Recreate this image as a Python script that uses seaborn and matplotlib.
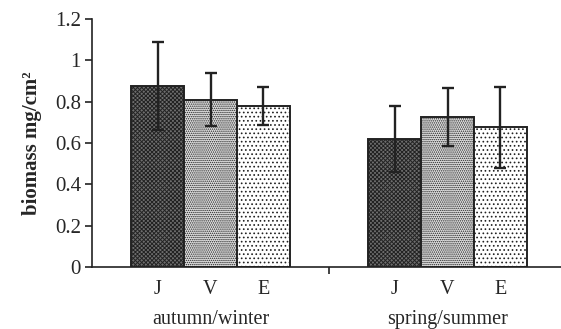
import matplotlib
matplotlib.use("Agg")
import matplotlib.pyplot as plt
import seaborn as sns
import pandas as pd
import numpy as np

seasons = ["autumn/winter", "spring/summer"]
sites = ["J", "V", "E"]
means_aw = [0.876, 0.81, 0.778]
means_ss = [0.62, 0.725, 0.675]
err_aw = [0.213, 0.127, 0.093]
err_ss = [0.16, 0.14, 0.195]
ytick_vals = [0, 0.2, 0.4, 0.6, 0.8, 1.0, 1.2]
ytick_labels = ["0", "0.2", "0.4", "0.6", "0.8", "1", "1.2"]

df = pd.DataFrame({
    "season": [seasons[0]] * 3 + [seasons[1]] * 3,
    "site": sites * 2,
    "biomass": means_aw + means_ss,
    "err": err_aw + err_ss,
})

sns.set_style("ticks")
plt.rcParams["font.family"] = ["Liberation Serif", "DejaVu Serif"]
plt.rcParams["hatch.linewidth"] = 0.7

fig = plt.figure(figsize=(5.61, 3.29), dpi=100)
ax = fig.add_axes([92 / 561, (329 - 267) / 329, 469 / 561, 248 / 329])

face = {"J": "#6e6e6e", "V": "#e2e2e2", "E": "#ffffff"}
sns.barplot(data=df, x="season", y="biomass", hue="site", order=seasons,
            hue_order=sites, palette=face, width=0.67, errorbar=None,
            edgecolor="#222222", linewidth=1.4, ax=ax, legend=False)

hatches = {"J": "xxxxxxxx", "V": "........", "E": "...."}
# patches are ordered by hue then by x
for i, site in enumerate(sites):
    for j, season in enumerate(seasons):
        p = ax.patches[i * len(seasons) + j]
        p.set_hatch(hatches[site])
        row = df[(df.season == season) & (df.site == site)].iloc[0]
        xc = p.get_x() + p.get_width() / 2
        ax.errorbar(xc, row.biomass, yerr=row.err, color="#222222",
                    capsize=4.5, elinewidth=1.7, capthick=1.7, zorder=5)
        ax.text(xc, -0.065, site, ha="center", va="top", fontsize=14.5)

for j, season in enumerate(seasons):
    ax.text(j, -0.21, season, ha="center", va="top", fontsize=14.5)

ax.set_xlim(-0.5, -0.5 + 2 * (469 / 474))
ax.set_ylim(0, 1.2)
ax.set_yticks(ytick_vals)
ax.set_yticklabels(ytick_labels, fontsize=15)
ax.set_xticks([0.5])
ax.set_xticklabels([""])
ax.tick_params(axis="x", length=5, width=1.2, direction="out", color="#222222")
ax.tick_params(axis="y", length=5, width=1.2, direction="out", color="#222222", pad=3)
ax.set_xlabel("")
ax.set_ylabel("biomass mg/cm²", fontsize=15, fontweight="bold", labelpad=9)
sns.despine(ax=ax, top=True, right=True)
for s in ["left", "bottom"]:
    ax.spines[s].set_linewidth(1.2)
    ax.spines[s].set_color("#222222")

fig.savefig("out.png", dpi=100)
